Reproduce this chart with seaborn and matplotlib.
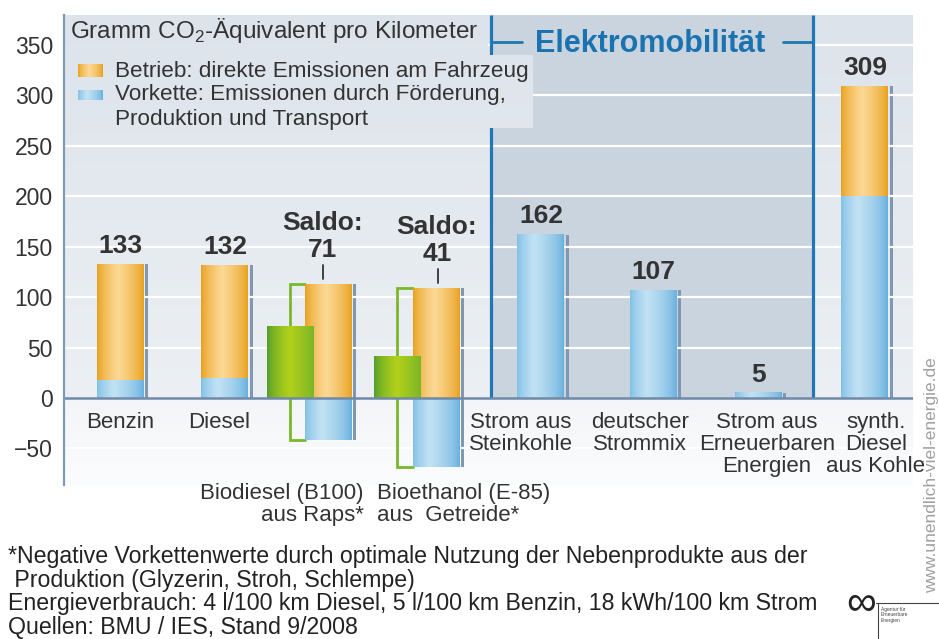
import numpy as np
import matplotlib
matplotlib.use("Agg")
import matplotlib.pyplot as plt
from matplotlib.colors import to_rgb
from matplotlib.lines import Line2D
import seaborn as sns

# Daten: Gramm CO2-Äquivalent pro Kilometer
kategorien = ["Benzin", "Diesel", "Biodiesel (B100)\naus Raps*", "Bioethanol (E-85)\naus  Getreide*",
              "Strom aus\nSteinkohle", "deutscher\nStrommix", "Strom aus\nErneuerbaren\nEnergien",
              "synth.\nDiesel\naus Kohle"]
vorkette = [18, 20, -42, -68, 162, 107, 5, 200]
betrieb = [115, 112, 113, 109, 0, 0, 0, 109]
saldo_index = [2, 3]
yticks = [-50, 0, 50, 100, 150, 200, 250, 300, 350]

# Layout (x in Achseneinheiten, 1 Einheit = 100 px)
pos = [0.56, 1.61, 2.645, 3.725, 4.77, 5.895, 6.945, 8.01]
pos_gruen = [2.26, 3.335]
saldo_x = [2.585, 3.73]
label_x = [0.56, 1.55, 3.00, 3.13, 4.57, 5.76, 7.03, 8.12]
label_ha = ["center", "center", "right", "left", "center", "center", "center", "center"]
breite = 0.47
XMAX, YMIN, YMAX = 8.49, -86.3, 379.7
E_LINKS, E_RECHTS = 4.27, 7.49

sns.set_theme(style="white")
plt.rcParams['font.family'] = ['Liberation Sans', 'DejaVu Sans']
plt.rcParams['mathtext.fontset'] = 'custom'
plt.rcParams['mathtext.rm'] = 'Liberation Sans'

TEXT = "#333333"
ELEKTRO = "#cad4df"
BLAU_LINIE = "#1f77b4"


def hg_farbe(v):
    oben, null = np.array(to_rgb("#dde3eb")), np.array(to_rgb("#ecf0f4"))
    ua, ub = np.array(to_rgb("#f3f5f8")), np.array(to_rgb("#fbfcfd"))
    if v >= 0:
        f = v / YMAX
        return null * (1 - f) + oben * f
    f = v / YMIN
    return ua * (1 - f) + ub * f


def hg_bild(ax, x0, x1, y0, y1, z):
    yy = np.linspace(y1, y0, 200)
    bild = np.array([hg_farbe(v) for v in yy])[:, None, :]
    ax.imshow(bild, extent=[x0, x1, y0, y1], aspect='auto', zorder=z, interpolation='bilinear')


def verlauf(rand, mitte, peak=0.45, rechts=None):
    t = np.linspace(0, 1, 80)
    prof = np.where(t < peak, t / peak, (1 - t) / (1 - peak)) ** 0.7
    r = np.array(to_rgb(rand))
    r2 = np.array(to_rgb(rechts if rechts else rand))
    m = np.array(to_rgb(mitte))
    basis = r[None, :] * (1 - t[:, None]) + r2[None, :] * t[:, None]
    return (basis + (m - basis) * prof[:, None])[None, :, :]


ORANGE = verlauf("#e8a01c", "#fcd996")
BLAU = verlauf("#80c0e6", "#c2e2f4", peak=0.35, rechts="#66afdd")
GRUEN = verlauf("#4f9c2c", "#b2d11a", peak=0.5, rechts="#78b42a")


def balken(ax, x, h, b, grad, z):
    rects = ax.bar(x, h, width=breite, bottom=b, color=tuple(grad[0, 0]), zorder=z, linewidth=0)
    for r in rects:
        if r.get_height() == 0:
            continue
        y0, y1 = sorted([r.get_y(), r.get_y() + r.get_height()])
        ax.imshow(grad, extent=[r.get_x(), r.get_x() + r.get_width(), y0, y1],
                  aspect='auto', zorder=z, interpolation='bilinear')
    return rects


fig = plt.figure(figsize=(9.39, 6.39), dpi=100)
ax = fig.add_axes([64 / 939, 1 - 485 / 639, 849 / 939, 470 / 639])

# Hintergrund mit leichtem Verlauf
hg_bild(ax, 0, XMAX, YMIN, YMAX, 0)
ax.fill_between([E_LINKS, E_RECHTS], 0, YMAX, color=ELEKTRO, zorder=0.5, linewidth=0)

# Schattenstreifen rechts neben den Balken
for i, x in enumerate(pos):
    top = betrieb[i] + max(vorkette[i], 0)
    bot = min(vorkette[i], 0)
    ax.bar(x + breite / 2 + 0.028, top - bot, width=0.032, bottom=bot, color="#7f97b0",
           zorder=0.8, linewidth=0)

for v in yticks:
    if v != 0:
        ax.axhline(v, color="white", lw=1.6, zorder=1)

# Abdeckflächen für Titel / Legende
hg_bild(ax, 0, 4.24, 340, YMAX, 1.1)
ax.fill_between([E_LINKS, E_RECHTS], 340, YMAX, color=ELEKTRO, zorder=1.1, linewidth=0)

# Elektromobilität-Klammer
for xv in (E_LINKS, E_RECHTS):
    ax.plot([xv, xv], [0, YMAX], color=BLAU_LINIE, lw=2.3, zorder=1.2, solid_capstyle='butt')
ax.plot([E_LINKS, 4.58], [353, 353], color=BLAU_LINIE, lw=2.0, zorder=1.2)
ax.plot([7.19, E_RECHTS], [353, 353], color=BLAU_LINIE, lw=2.0, zorder=1.2)
ax.text((E_LINKS + E_RECHTS) / 2 - 0.02, 343, "Elektromobilität", color="#1a73b0",
        fontsize=22, fontweight='bold', ha='center', va='baseline', zorder=4)

hg_bild(ax, 0, 4.69, 268, 340, 1.3)

# Balken
vk_pos = [max(v, 0) for v in vorkette]
blau_x = [x for x, v in zip(pos, vorkette) if v != 0]
blau_h = [v for v in vorkette if v != 0]
balken(ax, blau_x, blau_h, 0, BLAU, 2)
or_x = [x for x, b in zip(pos, betrieb) if b > 0]
or_h = [b for b in betrieb if b > 0]
or_b = [vk_pos[i] for i, b in enumerate(betrieb) if b > 0]
balken(ax, or_x, or_h, or_b, ORANGE, 2)

# Saldo (grün) mit Klammern
for j, i in enumerate(saldo_index):
    s = betrieb[i] + vorkette[i]
    xg = pos_gruen[j]
    links = pos[i] - breite / 2
    ax.plot([links, xg, xg, links], [betrieb[i], betrieb[i], vorkette[i], vorkette[i]],
            color="#78b82a", lw=2.0, zorder=1.9, solid_joinstyle='miter')
    balken(ax, [xg], [s], 0, GRUEN, 2.1)
    ax.plot([saldo_x[j] + 0.01] * 2, [betrieb[i] + 5, betrieb[i] + 19], color=TEXT, lw=1.3, zorder=4)
    ax.text(saldo_x[j], betrieb[i] + 27, f"{s}", fontsize=19, fontweight='bold', color=TEXT,
            ha='center', va='baseline', zorder=4)
    ax.text(saldo_x[j], betrieb[i] + 54, "Saldo:", fontsize=19, fontweight='bold', color=TEXT,
            ha='center', va='baseline', zorder=4)

# Summenwerte
for i, x in enumerate(pos):
    if i in saldo_index:
        continue
    gesamt = betrieb[i] + vorkette[i]
    ax.text(x, gesamt + 11, f"{gesamt}", fontsize=19, fontweight='bold', color=TEXT,
            ha='center', va='baseline', zorder=4)

ax.axhline(0, color="#6f8aa8", lw=1.8, zorder=3)

# Kategorienbeschriftung
for i, lab in enumerate(kategorien):
    y = -84 if i in saldo_index else -13.5
    ax.text(label_x[i], y, lab, fontsize=16, color=TEXT, ha=label_ha[i], multialignment=label_ha[i],
            va='top', linespacing=1.07, zorder=4)

# Titel und Legende
ax.text(0.06, 357, r"Gramm CO$_\mathregular{2}$-Äquivalent pro Kilometer", fontsize=17.5, color=TEXT,
        va='baseline', zorder=4)
ax.imshow(ORANGE, extent=[0.14, 0.39, 318.3, 330.2], aspect='auto', zorder=4)
ax.imshow(BLAU, extent=[0.14, 0.39, 295.5, 305.4], aspect='auto', zorder=4)
ax.text(0.51, 318.3, "Betrieb: direkte Emissionen am Fahrzeug", fontsize=16.2, color=TEXT,
        va='baseline', zorder=4)
ax.text(0.51, 295.5, "Vorkette: Emissionen durch Förderung,", fontsize=16.2, color=TEXT,
        va='baseline', zorder=4)
ax.text(0.51, 270.5, "Produktion und Transport", fontsize=16.2, color=TEXT, va='baseline', zorder=4)

ax.set_xlim(0, XMAX)
ax.set_ylim(YMIN, YMAX)
ax.set_xticks([])
ax.set_yticks(yticks)
ax.tick_params(axis='y', length=0, pad=8, labelsize=16.5, labelcolor=TEXT)
for s in ['top', 'right', 'bottom']:
    ax.spines[s].set_visible(False)
ax.spines['left'].set_color("#7f9ab5")
ax.spines['left'].set_linewidth(1.6)
ax.spines['left'].set_zorder(5)

# Fußnoten
fuss = ["*Negative Vorkettenwerte durch optimale Nutzung der Nebenprodukte aus der",
        " Produktion (Glyzerin, Stroh, Schlempe)",
        "Energieverbrauch: 4 l/100 km Diesel, 5 l/100 km Benzin, 18 kWh/100 km Strom",
        "Quellen: BMU / IES, Stand 9/2008"]
for k, zeile in enumerate(fuss):
    fig.text(8 / 939, 1 - (563 + 23.7 * k) / 639, zeile, fontsize=16.7, color="#222222", va='baseline')

# Logo und Webadresse
fig.text(846 / 939, 1 - 604 / 639, "∞", fontsize=30, color="#222222", va='center', ha='left')
fig.lines.append(Line2D([876 / 939, 1.0], [1 - 603 / 639, 1 - 603 / 639], transform=fig.transFigure,
                        color="#444444", lw=0.8))
fig.lines.append(Line2D([878 / 939, 878 / 939], [1 - 603 / 639, 0], transform=fig.transFigure,
                        color="#444444", lw=0.8))
fig.text(881 / 939, 1 - 607 / 639, "Agentur für\nErneuerbare\nEnergien", fontsize=3.5, color="#444444",
         va='top', ha='left', linespacing=1.1)
fig.text(932 / 939, 1 - 475 / 639, "www.unendlich-viel-energie.de", rotation=90, fontsize=12.5,
         color="#a0a0a0", ha='center', va='center')

fig.savefig("out.png", dpi=100)
